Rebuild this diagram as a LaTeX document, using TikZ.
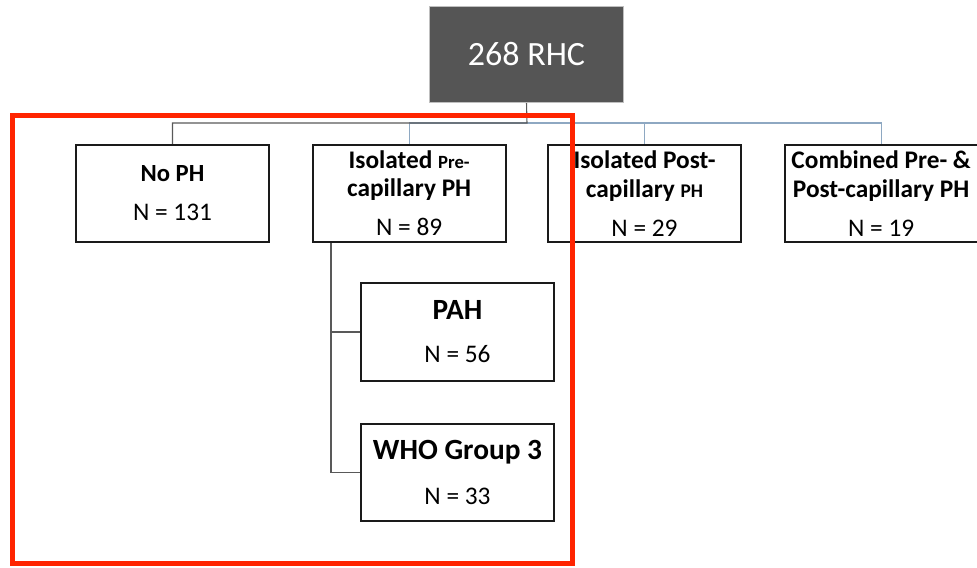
\documentclass[tikz,border=0pt]{standalone}
\usepackage{fontspec}
\setmainfont{Carlito}
\usepackage{xcolor}
\usetikzlibrary{positioning}
\definecolor{rootgray}{HTML}{555555}
\definecolor{linkgray}{HTML}{595959}
\definecolor{linkblue}{HTML}{8EA8C2}
\definecolor{boxline}{HTML}{1A1A1A}
\definecolor{focusred}{HTML}{FF2400}

\begin{document}
\begin{tikzpicture}[x=0.75pt, y=-0.75pt,
  rootbox/.style={
    rectangle, fill=rootgray, draw=gray!50, line width=0.6pt,
    minimum width=146pt, minimum height=72.5pt,
    text=white, font=\fontsize{25.5}{30}\selectfont,
  },
  groupbox/.style={
    rectangle, draw=boxline, line width=1.5pt, fill=white,
    minimum width=145pt, minimum height=73pt, inner sep=2pt,
    align=center, font=\fontsize{19}{21.25}\selectfont\bfseries,
  },
  subbox/.style={
    groupbox, font=\fontsize{22}{22}\selectfont\bfseries,
  },
  link/.style={draw=linkgray, line width=0.8pt},
  bluelink/.style={draw=linkblue, line width=0.8pt},
]
\useasboundingbox (0,0) rectangle (977,567);

\node[rootbox] (rhc) at (526.5, 54.5) {268 RHC};

\node[groupbox] (noph) at (172.5, 193.5) {
  {\fontsize{18.5}{21.25}\selectfont No PH}\\[8pt]
  {\mdseries N = 131}
};

\node[groupbox, right=31pt of noph] (pre) {
  Isolated {\fontsize{14}{16}\selectfont Pre-}\\
  capillary PH\\[8pt]
  {\mdseries N = 89}
};

\node[groupbox, right=30pt of pre] (post) {
  Isolated Post-\\
  capillary {\fontsize{14.5}{16}\selectfont PH}\\[8pt]
  {\mdseries N = 29}
};

\node[groupbox, right=31pt of post] (comb) {
  Combined Pre- \&\\
  Post-capillary PH\\[8pt]
  {\mdseries N = 19}
};

\node[subbox] (pah) at (457.5, 332) {
  PAH\\[10.25pt]
  {\mdseries\fontsize{19}{22}\selectfont N = 56}
};

\node[subbox, below=31pt of pah] (who) {
  WHO Group 3\\[11.75pt]
  {\mdseries\fontsize{19}{22}\selectfont N = 33}
};

% tree connectors
\coordinate (bus) at (527, 123);
\coordinate (trunk) at (331, 0);
\draw[bluelink] (pre.north) |- (bus) -| (comb.north);
\draw[bluelink] (post.north) -- (post.north |- bus);
\draw[link] (rhc.south) -- (bus) -| (noph.north);
\draw[link] (pre.south -| trunk) |- (who.west);
\draw[link] (trunk |- pah.west) -- (pah.west);

% highlight frame
\draw[focusred, line width=3.75pt] (12, 115) rectangle (572, 563);

\end{tikzpicture}
\end{document}
